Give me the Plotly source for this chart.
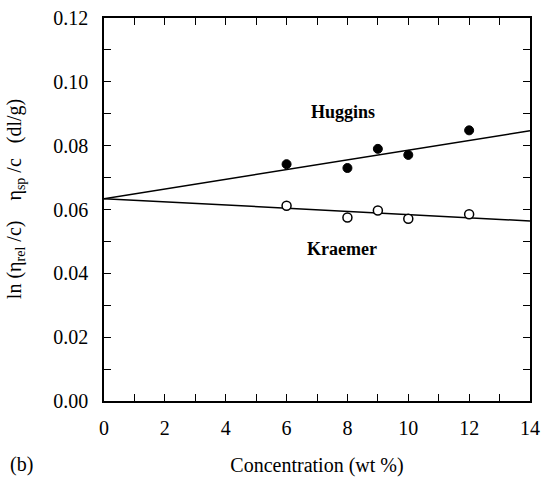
import plotly.graph_objects as go

# Measured reduced viscosities vs polymer concentration
conc = [6, 8, 9, 10, 12]
huggins = [0.0742, 0.0730, 0.0790, 0.0771, 0.0848]
kraemer = [0.0612, 0.0575, 0.0597, 0.0571, 0.0585]

# Linear fits extrapolated to zero concentration (common intercept)
fit_x = [0, 14]
intercept = 0.0634
huggins_slope = 0.00152
kraemer_slope = -0.00050

x_ticks = [0, 2, 4, 6, 8, 10, 12, 14]
y_ticks = [0.00, 0.02, 0.04, 0.06, 0.08, 0.10, 0.12]

font_family = "Times New Roman, Liberation Serif, serif"
tick_font = dict(family=font_family, size=20, color="black")

fig = go.Figure()

fig.add_trace(go.Scatter(
    x=fit_x, y=[intercept + huggins_slope * x for x in fit_x],
    mode="lines", line=dict(color="black", width=1.5), showlegend=False))
fig.add_trace(go.Scatter(
    x=fit_x, y=[intercept + kraemer_slope * x for x in fit_x],
    mode="lines", line=dict(color="black", width=1.5), showlegend=False))

fig.add_trace(go.Scatter(
    x=conc, y=huggins, mode="markers",
    marker=dict(symbol="circle", size=9, color="black",
                line=dict(color="black", width=1)),
    showlegend=False))
fig.add_trace(go.Scatter(
    x=conc, y=kraemer, mode="markers",
    marker=dict(symbol="circle", size=9, color="white",
                line=dict(color="black", width=1.5)),
    showlegend=False))

fig.add_annotation(x=7.85, y=0.0905, text="<b>Huggins</b>", showarrow=False,
                   font=dict(family=font_family, size=18, color="black"))
fig.add_annotation(x=7.82, y=0.0476, text="<b>Kraemer</b>", showarrow=False,
                   font=dict(family=font_family, size=18, color="black"))

# panel label, bottom-left corner
fig.add_annotation(x=-0.225, y=-0.167, xref="paper", yref="paper",
                   xanchor="left", yanchor="middle", text="(b)", showarrow=False,
                   font=dict(family=font_family, size=20, color="black"))

# y-axis title as a rotated annotation
fig.add_annotation(x=-0.209, y=0.527, xref="paper", yref="paper",
                   xanchor="center", yanchor="middle", textangle=-90,
                   text="ln (η<sub>rel</sub> /c)    η<sub>sp</sub> /c   (dl/g)",
                   showarrow=False,
                   font=dict(family=font_family, size=20, color="black"))

fig.update_xaxes(
    range=[0, 14], tickvals=x_ticks, ticktext=[str(v) for v in x_ticks],
    ticks="inside", ticklen=7, tickwidth=1.2, tickcolor="black",
    minor=dict(ticks="inside", dtick=1, ticklen=7, tickwidth=1.2, tickcolor="black"),
    showline=True, linecolor="black", linewidth=1.5, mirror="ticks",
    showgrid=False, zeroline=False, ticklabelstandoff=8, automargin=False,
    tickfont=tick_font,
    title=dict(text="Concentration (wt %)", standoff=20,
               font=dict(family=font_family, size=20, color="black")))

fig.update_yaxes(
    range=[0, 0.12], tickvals=y_ticks, ticktext=[f"{v:.2f}" for v in y_ticks],
    ticks="inside", ticklen=7, tickwidth=1.2, tickcolor="black",
    minor=dict(ticks="inside", dtick=0.01, ticklen=7, tickwidth=1.2, tickcolor="black"),
    showline=True, linecolor="black", linewidth=1.5, mirror="ticks",
    showgrid=False, zeroline=False, ticklabelstandoff=10, automargin=False,
    tickfont=tick_font)

fig.update_layout(
    width=542, height=484,
    margin=dict(l=104, r=12, t=18, b=83),
    paper_bgcolor="white", plot_bgcolor="white",
    font=dict(family=font_family, color="black"))

fig.write_html("out.html")
